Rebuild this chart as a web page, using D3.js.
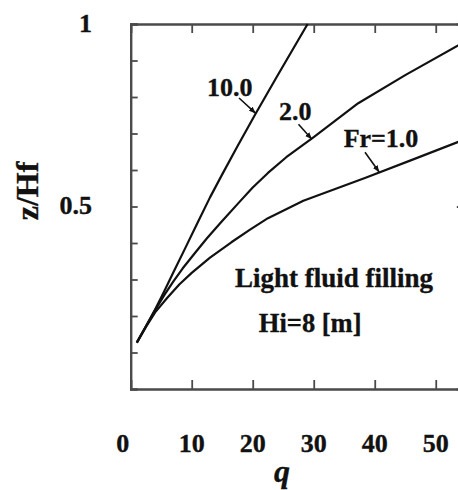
<!DOCTYPE html>
<html><head><meta charset="utf-8">
<script src="https://cdn.jsdelivr.net/npm/d3@7"></script>
<style>
body{margin:0;background:#fff}
svg{display:block}
text{font-family:"Liberation Serif","Times New Roman",serif;font-weight:bold;fill:#111;stroke:#111;stroke-width:0.35px}
</style>
</head><body>
<svg id="c" width="458" height="490"></svg>
<script>
// ---- data ----
const seriesNames = ["Fr=1.0", "2.0", "10.0"];
const qFr1  = [1, 2.5, 4, 6, 8, 10, 13, 16.5, 19.5, 22.5, 28.3, 38.5, 46, 54.6];
const zFr1  = [0.127, 0.17, 0.21, 0.25, 0.287, 0.318, 0.36, 0.402, 0.436, 0.468, 0.516, 0.579, 0.627, 0.683];
const qFr2  = [1, 2.5, 4, 5.5, 7, 8.5, 10.5, 12.5, 14.7, 17.8, 20, 22.5, 25.5, 30, 37.3, 45, 54.6];
const zFr2  = [0.127, 0.172, 0.216, 0.257, 0.295, 0.33, 0.372, 0.413, 0.455, 0.512, 0.552, 0.592, 0.635, 0.69, 0.783, 0.86, 0.95];
const qFr10 = [1, 2.5, 4, 5.5, 7, 9, 11, 13, 15, 17.5, 20.4, 24, 29];
const zFr10 = [0.127, 0.172, 0.218, 0.268, 0.32, 0.388, 0.457, 0.525, 0.588, 0.665, 0.752, 0.857, 1.0];
const xTickValues = [0, 10, 20, 30, 40, 50];
const yMinorTicks = [0.1, 0.2, 0.3, 0.4, 0.5, 0.6, 0.7, 0.8, 0.9, 1.0];
const yTickLabels = [0.5, 1];
const xLabel = "q";
const yLabel = "z/Hf";
const noteLines = ["Light fluid filling", "Hi=8 [m]"];
// annotation: label, q and z where the arrow touches its curve
const annoLabels = ["10.0", "2.0", "Fr=1.0"];
const annoQ = [20.5, 29.7, 40.75];
const annoZ = [0.755, 0.684, 0.594];

// ---- drawing ----
const svg = d3.select("#c");
const x = d3.scaleLinear().domain([0, 54.6]).range([130.7, 463.8]);
const y = d3.scaleLinear().domain([0, 1]).range([389, 24]);
const axisColor = "#4a4a4a";

svg.append("defs").append("marker")
  .attr("id", "ah").attr("viewBox", "0 0 10 10").attr("refX", 10).attr("refY", 5)
  .attr("markerWidth", 7).attr("markerHeight", 7).attr("markerUnits", "userSpaceOnUse")
  .attr("orient", "auto")
  .append("path").attr("d", "M0,1 L10,5 L0,9 Z").attr("fill", "#111");

// frame axes
const gBottom = svg.append("g").attr("transform", `translate(0,${y(0)})`)
  .call(d3.axisBottom(x).tickValues(xTickValues.filter(v => v > 0)).tickSize(-9).tickFormat(""));
const gTop = svg.append("g").attr("transform", `translate(0,${y(1)})`)
  .call(d3.axisTop(x).tickValues(xTickValues.filter(v => v > 0)).tickSize(-9).tickFormat(""));
const gLeft = svg.append("g").attr("transform", `translate(${x(0)},0)`)
  .call(d3.axisLeft(y).tickValues(yMinorTicks).tickSize(-7).tickFormat(""));
const gRight = svg.append("g").attr("transform", `translate(${x(54.6)},0)`)
  .call(d3.axisRight(y).tickValues([0.5]).tickSize(-7).tickFormat(""));
[gBottom, gTop, gLeft, gRight].forEach(g => {
  g.select(".domain").attr("stroke", axisColor).attr("stroke-width", 2.4);
  g.selectAll(".tick line").attr("stroke", axisColor).attr("stroke-width", 1.8);
});

// tick labels
svg.append("g").selectAll("text").data(xTickValues).join("text")
  .attr("x", d => x(d) + (d === 0 ? -8 : 0)).attr("y", 452)
  .attr("text-anchor", "middle").attr("font-size", 26)
  .text(d => d);
svg.append("g").selectAll("text").data(yTickLabels).join("text")
  .attr("x", 92).attr("y", d => y(d) + 7.5)
  .attr("text-anchor", "end").attr("font-size", 26)
  .text(d => d);

// axis titles
svg.append("text").attr("x", 282).attr("y", 482).attr("text-anchor", "middle")
  .attr("font-size", 32).attr("font-style", "italic").text(xLabel);
svg.append("text").attr("transform", "translate(38,191) rotate(-90)")
  .attr("text-anchor", "middle").attr("font-size", 32).text(yLabel);

// curves
const curves = [[qFr1, zFr1], [qFr2, zFr2], [qFr10, zFr10]];
const line = d3.line().x(d => x(d[0])).y(d => y(d[1]));
svg.append("g").selectAll("path").data(curves).join("path")
  .attr("d", ([qs, zs]) => line(qs.map((q, i) => [q, zs[i]])))
  .attr("fill", "none").attr("stroke", "#111").attr("stroke-width", 2.2)
  .attr("stroke-linejoin", "round");

// annotations
const arrowVec = [[-16.7, -15.4], [-13.4, -15], [-14.3, -20]];
const textOff = [[-26, -17.7], [-16.7, -19], [1.7, -24.7]];
annoLabels.forEach((lab, i) => {
  const tx = x(annoQ[i]), ty = y(annoZ[i]);
  svg.append("line")
    .attr("x1", tx + arrowVec[i][0]).attr("y1", ty + arrowVec[i][1])
    .attr("x2", tx).attr("y2", ty)
    .attr("stroke", "#111").attr("stroke-width", 1.6).attr("marker-end", "url(#ah)");
  svg.append("text").attr("x", tx + textOff[i][0]).attr("y", ty + textOff[i][1])
    .attr("text-anchor", "middle").attr("font-size", 26).text(lab);
});

// note text
svg.append("text").attr("x", x(17.1)).attr("y", y(0.279)).attr("font-size", 27).text(noteLines[0]);
svg.append("text").attr("x", x(21)).attr("y", y(0.156)).attr("font-size", 26.5).text(noteLines[1]);
</script>
</body></html>
